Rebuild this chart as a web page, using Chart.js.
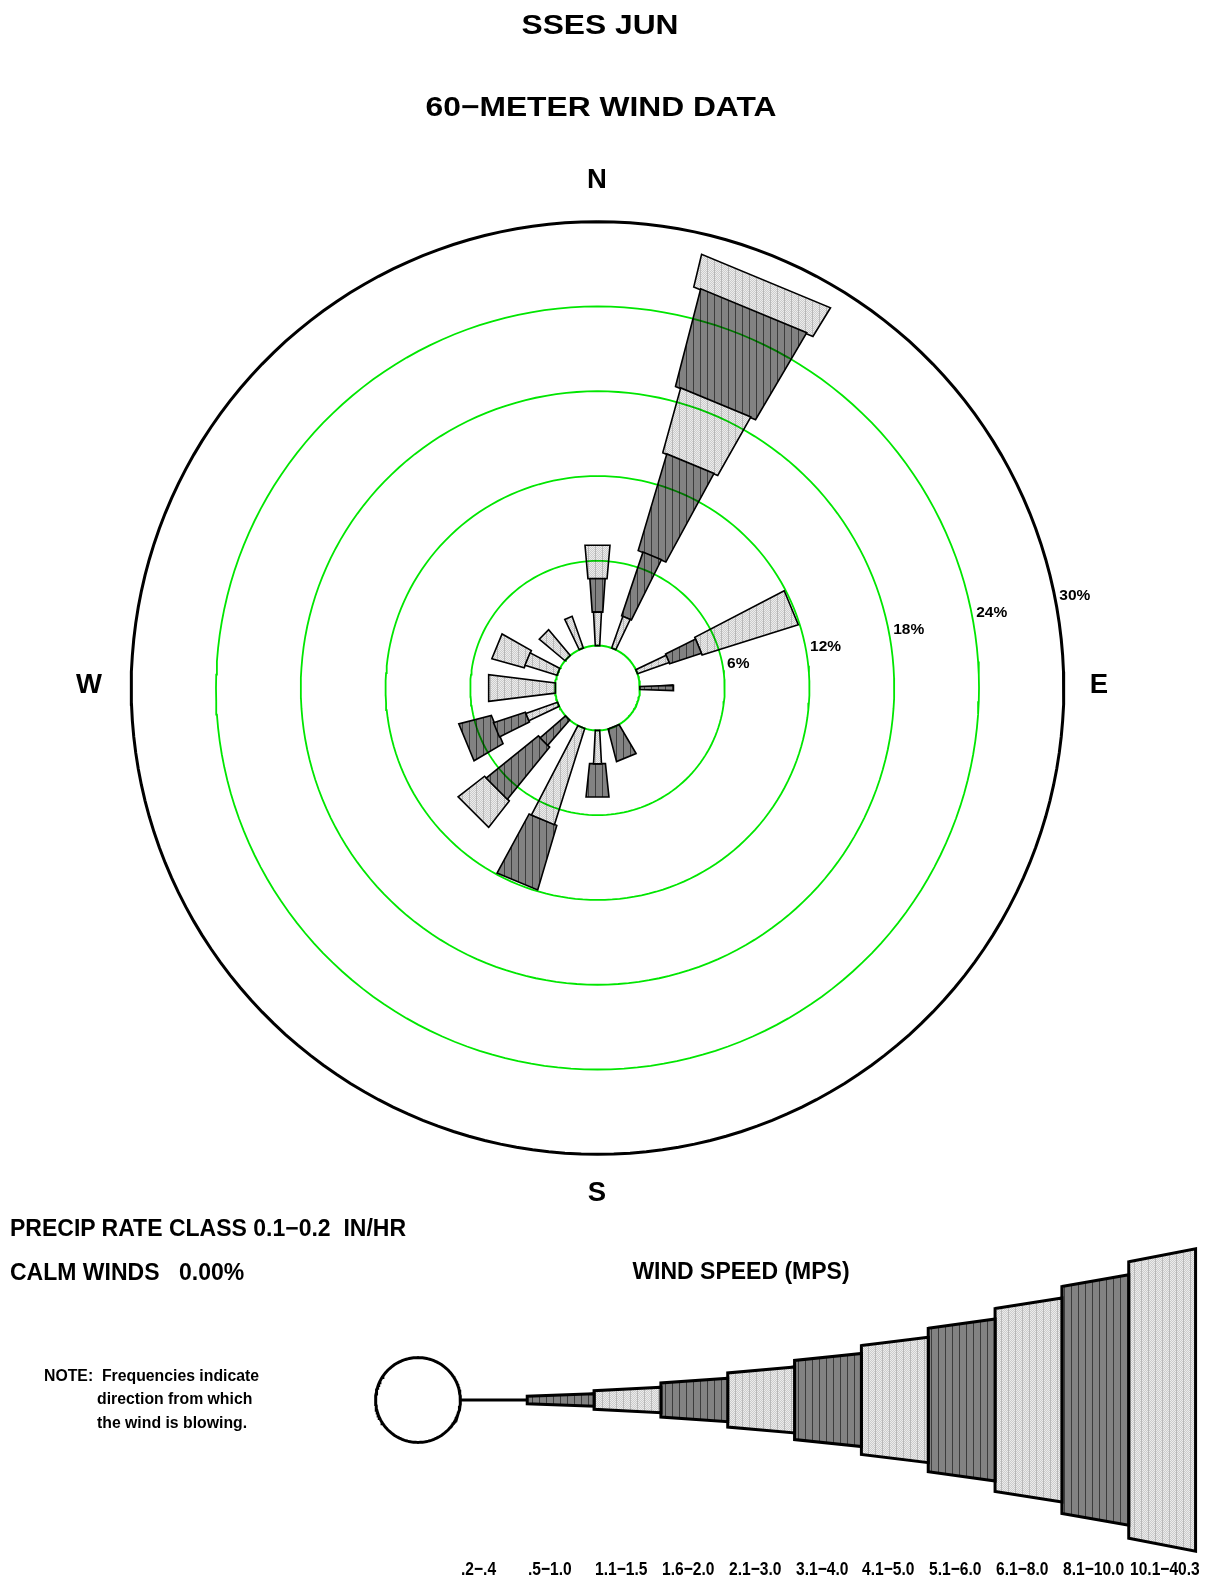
<!DOCTYPE html>
<html lang="en">
<head>
<meta charset="utf-8">
<title>SSES JUN - 60-Meter Wind Data</title>
<script src="https://cdn.jsdelivr.net/npm/chart.js@4/dist/chart.umd.min.js"></script>
<style>
    html, body { margin: 0; padding: 0; background: #fff; }
    #page {
        position: relative;
        width: 1214px;
        height: 1581px;
        overflow: hidden;
        font-family: "Liberation Sans", Arial, Helvetica, sans-serif;
        font-weight: bold;
        color: #000;
    }
    #windRose { position: absolute; left: 0; top: 0; }
    .txt { position: absolute; white-space: pre; line-height: 1; }
    .title { font-size: 27.5px; transform: translateX(-50%) scaleX(1.155); }
    .compass { font-size: 27.5px; transform: translateX(-50%); }
    .info { font-size: 23px; }
    .note { font-size: 15.8px; }
    .speed { font-size: 19px; transform-origin: 0 0; }
</style>
</head>
<body>
<div id="page">
    <canvas id="windRose" width="1214" height="1581"></canvas>

    <div class="txt title" style="left:600.3px; top:11px;">SSES JUN</div>
    <div class="txt title" style="left:601.3px; top:93px;">60−METER WIND DATA</div>

    <div class="txt compass" style="left:597px; top:165px;">N</div>
    <div class="txt compass" style="left:597px; top:1178px;">S</div>
    <div class="txt compass" style="left:89px; top:670px;">W</div>
    <div class="txt compass" style="left:1099px; top:670px;">E</div>

    <div class="txt info" style="left:10px; top:1217px;">PRECIP RATE CLASS 0.1−0.2  IN/HR</div>
    <div class="txt info" style="left:10px; top:1261px;">CALM WINDS</div>
    <div class="txt info" id="calmValue" style="left:179px; top:1261px;"></div>
    <div class="txt info" style="left:741px; top:1260px; transform: translateX(-50%);">WIND SPEED (MPS)</div>

    <div class="txt note" style="left:44px; top:1368px;">NOTE:  Frequencies indicate</div>
    <div class="txt note" style="left:97px; top:1391px;">direction from which</div>
    <div class="txt note" style="left:97px; top:1415px;">the wind is blowing.</div>
</div>

<script>
/**
 * Data
 */
const directions = ['N', 'NNE', 'NE', 'ENE', 'E', 'ESE', 'SE', 'SSE', 'S', 'SSW', 'SW', 'WSW', 'W', 'WNW', 'NW', 'NNW'];
const speedClasses = ['.2−.4', '.5−1.0', '1.1−1.5', '1.6−2.0', '2.1−3.0', '3.1−4.0', '4.1−5.0', '5.1−6.0', '6.1−8.0', '8.1−10.0', '10.1−40.3'];

// frequency (%) per direction, one array per speed class (mps)
//                  N     NNE   NE  ENE   E     ESE SE  SSE   S     SSW   SW    WSW   W     WNW   NW    NNW
const freq02_04  = [0,    0,    0,  0,    0,    0,  0,  0,    0,    0,    0,    0,    0,    0,    0,    0];
const freq05_10  = [0,    0,    0,  0,    2.38, 0,  0,  0,    0,    0,    0,    0,    0,    0,    0,    0];
const freq11_15  = [2.38, 2.38, 0,  2.38, 0,    0,  0,  0,    2.38, 0,    0,    2.38, 0,    0,    0,    2.38];
const freq16_20  = [2.38, 4.76, 0,  2.38, 0,    0,  0,  0,    0,    0,    2.38, 2.38, 0,    0,    0,    0];
const freq21_30  = [2.38, 0,    0,  7.14, 0,    0,  0,  0,    0,    7.14, 0,    0,    0,    2.38, 2.38, 0];
const freq31_40  = [0,    7.14, 0,  0,    0,    0,  0,  0,    2.38, 4.76, 4.76, 0,    0,    0,    0,    0];
const freq41_50  = [0,    4.76, 0,  0,    0,    0,  0,  0,    0,    0,    2.38, 0,    4.76, 2.38, 0,    0];
const freq51_60  = [0,    7.14, 0,  0,    0,    0,  0,  2.38, 0,    0,    0,    2.38, 0,    0,    0,    0];
const freq61_80  = [0,    2.38, 0,  0,    0,    0,  0,  0,    0,    0,    0,    0,    0,    0,    0,    0];
const freq81_100 = [0,    0,    0,  0,    0,    0,  0,  0,    0,    0,    0,    0,    0,    0,    0,    0];
const freq101_403 = [0,   0,    0,  0,    0,    0,  0,  0,    0,    0,    0,    0,    0,    0,    0,    0];

const classFreqs = [freq02_04, freq05_10, freq11_15, freq16_20, freq21_30, freq31_40,
                    freq41_50, freq51_60, freq61_80, freq81_100, freq101_403];

const ringPercents = [6, 12, 18, 24, 30];
const calmPercent = 0.00;

/**
 * Layout
 */
const PAGE_W = 1214;
const PAGE_H = 1581;
const PX_PER_PCT = 14.13;                 // radial scale of the rose
const ROSE_CENTER = {x: 597.5, y: 688};   // px
const LEGEND_CENTER = {x: 418, y: 1400};  // px
const CALM_RADIUS = 3;                    // calm circle radius, in percent units
const LEGEND_STEP = 4.73;                 // length of one speed class in the key
const SECTOR_DEG = 360 / directions.length;
const RING_LABEL_DEG = 11.6;

// half width (degrees) of the wedge drawn for a speed class
function halfAngle(k) {
    return k === 0 ? 0 : k + 1;
}

const legendX = (LEGEND_CENTER.x - ROSE_CENTER.x) / PX_PER_PCT;
const legendY = (ROSE_CENTER.y - LEGEND_CENTER.y) / PX_PER_PCT;

/**
 * Fill patterns
 */
function makePattern(base, dot, stripe) {
    const c = document.createElement('canvas');
    c.width = 14;
    c.height = 2;
    const g = c.getContext('2d');
    g.fillStyle = base;
    g.fillRect(0, 0, 14, 2);
    if (dot) {
        g.fillStyle = dot;
        for (let x = 0; x < 14; x++) {
            g.fillRect(x, (x + 1) % 2, 1, 1);
        }
    }
    g.fillStyle = stripe;
    g.fillRect(0, 0, 1, 2);
    g.fillRect(7, 0, 1, 2);
    return g.createPattern(c, 'repeat');
}

const darkFill = makePattern('#828282', null, '#3c3c3c');
const lightFill = makePattern('#ececec', '#cccccc', '#b8b8b8');

/**
 * Geometry helpers (values in percent units, mapped by the chart scales)
 */
function polar(cx, cy, r, deg) {
    const a = deg * Math.PI / 180;
    return {x: cx + r * Math.sin(a), y: cy + r * Math.cos(a)};
}

function circlePoints(cx, cy, r) {
    const pts = [];
    for (let a = 0; a <= 360; a += 2) {
        pts.push(polar(cx, cy, r, a));
    }
    return pts;
}

// flatEnds: class boundaries are straight lines at distance r (used in the key)
function wedgePoints(cx, cy, dirDeg, r1, r2, halfDeg, flatEnds) {
    const k = flatEnds ? 1 / Math.cos(halfDeg * Math.PI / 180) : 1;
    const a1 = dirDeg - halfDeg;
    const a2 = dirDeg + halfDeg;
    const p1 = polar(cx, cy, r1 * k, a1);
    const p2 = polar(cx, cy, r2 * k, a1);
    const p3 = polar(cx, cy, r2 * k, a2);
    const p4 = polar(cx, cy, r1 * k, a2);
    return [p1, p2, p3, p4, p1, p2];
}

function wedgeDataset(points, k, width) {
    return {
        data: points,
        showLine: true,
        fill: 'shape',
        backgroundColor: k % 2 === 1 ? darkFill : lightFill,
        borderColor: '#000',
        borderWidth: width,
        borderJoinStyle: 'miter',
        pointRadius: 0,
        pointHoverRadius: 0,
        tension: 0,
        order: 2
    };
}

const datasets = [];

// rings: calm circle and the percent circles
datasets.push({
    data: circlePoints(0, 0, CALM_RADIUS),
    showLine: true, borderColor: '#00e600', borderWidth: 2,
    pointRadius: 0, pointHoverRadius: 0, order: 0, blend: 'multiply'
});
ringPercents.forEach(function (p, i) {
    const outer = i === ringPercents.length - 1;
    datasets.push({
        data: circlePoints(0, 0, CALM_RADIUS + p),
        showLine: true,
        borderColor: outer ? '#000' : '#00e600',
        borderWidth: outer ? 3 : 1.8,
        pointRadius: 0, pointHoverRadius: 0,
        order: outer ? 0 : 1,
        blend: outer ? null : 'multiply'
    });
});

// rose wedges, stacked outward by speed class
directions.forEach(function (dir, i) {
    let cum = 0;
    classFreqs.forEach(function (values, k) {
        const v = values[i];
        if (!v) {
            return;
        }
        const r1 = CALM_RADIUS + cum;
        const r2 = CALM_RADIUS + cum + v;
        datasets.push(wedgeDataset(wedgePoints(0, 0, i * SECTOR_DEG, r1, r2, halfAngle(k), false), k, 1.6));
        cum += v;
    });
});

// wind speed key
datasets.push({
    data: circlePoints(legendX, legendY, CALM_RADIUS),
    showLine: true, fill: 'shape', backgroundColor: '#fff',
    borderColor: '#000', borderWidth: 3, pointRadius: 0, pointHoverRadius: 0, order: 2
});
speedClasses.forEach(function (label, k) {
    const r1 = CALM_RADIUS + k * LEGEND_STEP;
    const r2 = r1 + LEGEND_STEP;
    if (k === 0) {
        datasets.push({
            data: [polar(legendX, legendY, r1, 90), polar(legendX, legendY, r2, 90)],
            showLine: true, borderColor: '#000', borderWidth: 3,
            pointRadius: 0, pointHoverRadius: 0, order: 2
        });
        return;
    }
    datasets.push(wedgeDataset(wedgePoints(legendX, legendY, 90, r1, r2, halfAngle(k), true), k, 3));
});

/**
 * Plugins
 */
const blendPlugin = {
    id: 'blend',
    beforeDatasetDraw(chart, args) {
        const ds = chart.data.datasets[args.index];
        if (ds.blend) {
            chart.ctx.save();
            chart.ctx.globalCompositeOperation = ds.blend;
        }
    },
    afterDatasetDraw(chart, args) {
        if (chart.data.datasets[args.index].blend) {
            chart.ctx.restore();
        }
    }
};

const ringLabelPlugin = {
    id: 'ringLabels',
    afterDatasetsDraw(chart) {
        const ctx = chart.ctx;
        const xs = chart.scales.x;
        const ys = chart.scales.y;
        ctx.save();
        ctx.font = 'bold 15.5px "Liberation Sans", Arial, sans-serif';
        ctx.textBaseline = 'middle';
        ctx.textAlign = 'left';
        ctx.fillStyle = '#000';
        ringPercents.forEach(function (p) {
            const pos = polar(0, 0, CALM_RADIUS + p, 90 - RING_LABEL_DEG);
            ctx.fillText(p + '%', xs.getPixelForValue(pos.x) + 5, ys.getPixelForValue(pos.y) + 1);
        });
        ctx.restore();
    }
};

/**
 * Chart
 */
const windRose = new Chart(document.getElementById('windRose'), {
    type: 'scatter',
    data: {datasets: datasets},
    options: {
        responsive: false,
        animation: false,
        devicePixelRatio: 1,
        events: [],
        layout: {autoPadding: false, padding: 0},
        plugins: {
            legend: {display: false},
            tooltip: {enabled: false}
        },
        scales: {
            x: {
                type: 'linear',
                display: false,
                bounds: 'data',
                min: -ROSE_CENTER.x / PX_PER_PCT,
                max: (PAGE_W - ROSE_CENTER.x) / PX_PER_PCT
            },
            y: {
                type: 'linear',
                display: false,
                bounds: 'data',
                min: -(PAGE_H - ROSE_CENTER.y) / PX_PER_PCT,
                max: ROSE_CENTER.y / PX_PER_PCT
            }
        }
    },
    plugins: [blendPlugin, ringLabelPlugin]
});

document.getElementById('calmValue').textContent = calmPercent.toFixed(2) + '%';

// speed class labels under the key
const page = document.getElementById('page');
speedClasses.forEach(function (label, k) {
    const start = windRose.scales.x.getPixelForValue(legendX + CALM_RADIUS + k * LEGEND_STEP);
    const div = document.createElement('div');
    div.className = 'txt speed';
    div.textContent = label;
    div.style.left = (start + 1) + 'px';
    div.style.top = '1559px';
    page.appendChild(div);
    const w = div.getBoundingClientRect().width;
    const s = Math.min(0.82, (1200 - start) / w);
    div.style.transform = 'scaleX(' + s + ')';
});
</script>
</body>
</html>
